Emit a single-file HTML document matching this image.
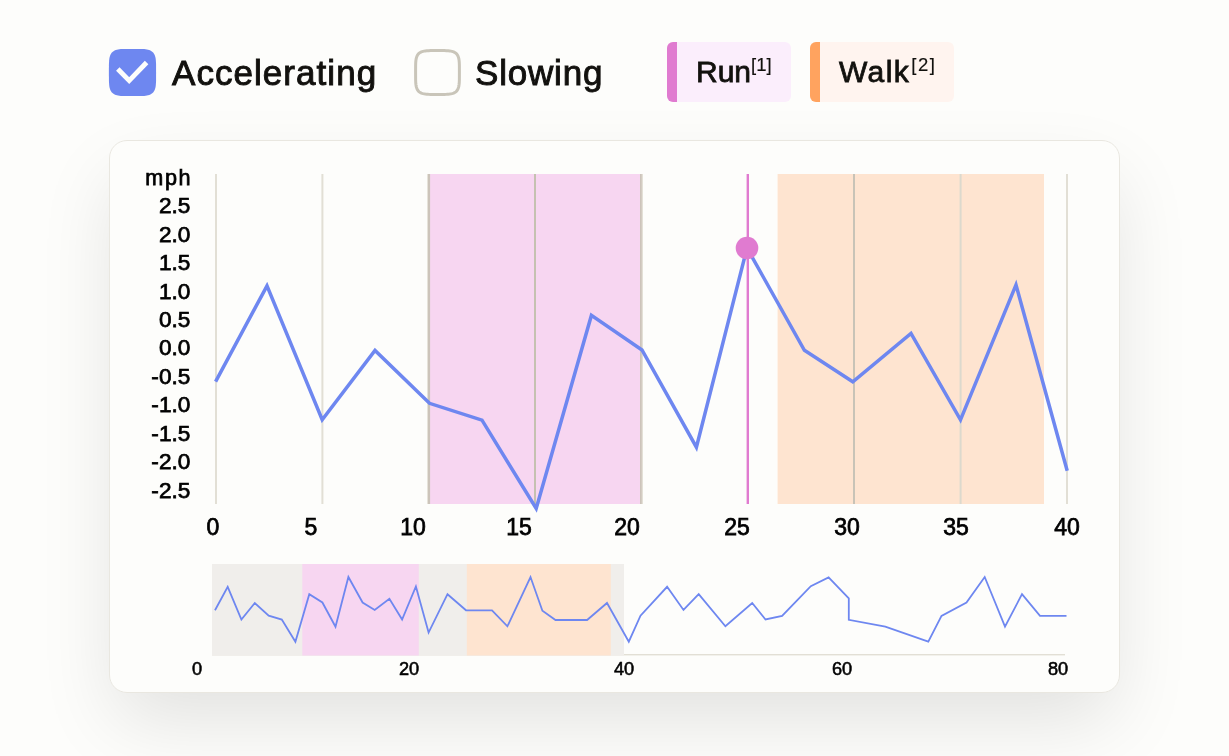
<!DOCTYPE html>
<html lang="en">
<head>
<meta charset="utf-8">
<title>Speed chart</title>
<style>
  html,body{margin:0;padding:0;}
  body{width:1229px;height:756px;background:#fdfdfb;position:relative;overflow:hidden;
       font-family:"Liberation Sans",Arial,sans-serif;color:#12110e;}
  .abs{position:absolute;}
  /* ---------- top controls ---------- */
  .cb{position:absolute;top:48.5px;width:47px;height:47px;overflow:visible;}
  .lbl{position:absolute;font-size:35px;line-height:40px;top:52.5px;white-space:nowrap;letter-spacing:1.05px;
       -webkit-text-stroke:0.95px #12110e;}
  .tag{position:absolute;top:42px;height:60px;border-radius:6px;overflow:hidden;}
  .tag i{position:absolute;left:0;top:0;bottom:0;width:10px;}
  .tag span{position:absolute;top:0;line-height:60px;font-size:30px;white-space:nowrap;-webkit-text-stroke:0.8px #12110e;}
  .tag sup{font-size:18.5px;-webkit-text-stroke:0.15px #12110e;vertical-align:baseline;position:relative;top:-11.5px;margin-left:0px;}
  /* ---------- card ---------- */
  .card{position:absolute;left:109px;top:140px;width:1009px;height:551.2px;border:1px solid #e9e7e0;border-radius:18px;
        background:#fdfdfb;box-shadow:0 33px 78px -7px rgba(10,10,8,0.112);}
  .yl{position:absolute;left:100px;width:90.3px;text-align:right;font-size:22.6px;line-height:24px;white-space:nowrap;-webkit-text-stroke:0.75px #000;color:#000;}
  .xl{position:absolute;top:514.6px;width:60px;margin-left:-30px;text-align:center;font-size:23px;line-height:24px;-webkit-text-stroke:0.75px #000;color:#000;}
  .ml{position:absolute;top:659.6px;width:40px;margin-left:-20px;text-align:center;font-size:18.2px;line-height:18px;-webkit-text-stroke:0.55px #000;color:#000;}
  .lbl,.tag span,.yl,.xl,.ml{will-change:transform;}
  svg{position:absolute;left:0;top:0;}
</style>
</head>
<body>

<!-- checkbox: Accelerating (checked) -->
<svg class="cb" style="left:109px" viewBox="0 0 47 47">
  <path d="M47.10 23.50 L47.08 30.71 L47.01 33.24 L46.90 35.10 L46.75 36.61 L46.55 37.91 L46.30 39.04 L46.01 40.05 L45.67 40.96 L45.28 41.78 L44.84 42.52 L44.35 43.19 L43.80 43.80 L43.19 44.35 L42.52 44.84 L41.78 45.28 L40.96 45.67 L40.05 46.01 L39.04 46.30 L37.91 46.55 L36.61 46.75 L35.10 46.90 L33.24 47.01 L30.71 47.08 L23.50 47.10 L16.29 47.08 L13.76 47.01 L11.90 46.90 L10.39 46.75 L9.09 46.55 L7.96 46.30 L6.95 46.01 L6.04 45.67 L5.22 45.28 L4.48 44.84 L3.81 44.35 L3.20 43.80 L2.65 43.19 L2.16 42.52 L1.72 41.78 L1.33 40.96 L0.99 40.05 L0.70 39.04 L0.45 37.91 L0.25 36.61 L0.10 35.10 L-0.01 33.24 L-0.08 30.71 L-0.10 23.50 L-0.08 16.29 L-0.01 13.76 L0.10 11.90 L0.25 10.39 L0.45 9.09 L0.70 7.96 L0.99 6.95 L1.33 6.04 L1.72 5.22 L2.16 4.48 L2.65 3.81 L3.20 3.20 L3.81 2.65 L4.48 2.16 L5.22 1.72 L6.04 1.33 L6.95 0.99 L7.96 0.70 L9.09 0.45 L10.39 0.25 L11.90 0.10 L13.76 -0.01 L16.29 -0.08 L23.50 -0.10 L30.71 -0.08 L33.24 -0.01 L35.10 0.10 L36.61 0.25 L37.91 0.45 L39.04 0.70 L40.05 0.99 L40.96 1.33 L41.78 1.72 L42.52 2.16 L43.19 2.65 L43.80 3.20 L44.35 3.81 L44.84 4.48 L45.28 5.22 L45.67 6.04 L46.01 6.95 L46.30 7.96 L46.55 9.09 L46.75 10.39 L46.90 11.90 L47.01 13.76 L47.08 16.29 Z" fill="#6e87f0"/>
  <path d="M8.8 20.0 L20.2 31.6 L37.6 13.5" fill="none" stroke="#fdfdfb" stroke-width="4.9"/>
</svg>
<div class="lbl" style="left:171.6px">Accelerating</div>

<!-- checkbox: Slowing (unchecked) -->
<svg class="cb" style="left:414px" viewBox="0 0 47 47">
  <path d="M45.40 23.50 L45.38 30.19 L45.32 32.54 L45.22 34.26 L45.07 35.67 L44.89 36.87 L44.66 37.92 L44.39 38.86 L44.07 39.70 L43.71 40.46 L43.30 41.15 L42.85 41.77 L42.34 42.34 L41.77 42.85 L41.15 43.30 L40.46 43.71 L39.70 44.07 L38.86 44.39 L37.92 44.66 L36.87 44.89 L35.67 45.07 L34.26 45.22 L32.54 45.32 L30.19 45.38 L23.50 45.40 L16.81 45.38 L14.46 45.32 L12.74 45.22 L11.33 45.07 L10.13 44.89 L9.08 44.66 L8.14 44.39 L7.30 44.07 L6.54 43.71 L5.85 43.30 L5.23 42.85 L4.66 42.34 L4.15 41.77 L3.70 41.15 L3.29 40.46 L2.93 39.70 L2.61 38.86 L2.34 37.92 L2.11 36.87 L1.93 35.67 L1.78 34.26 L1.68 32.54 L1.62 30.19 L1.60 23.50 L1.62 16.81 L1.68 14.46 L1.78 12.74 L1.93 11.33 L2.11 10.13 L2.34 9.08 L2.61 8.14 L2.93 7.30 L3.29 6.54 L3.70 5.85 L4.15 5.23 L4.66 4.66 L5.23 4.15 L5.85 3.70 L6.54 3.29 L7.30 2.93 L8.14 2.61 L9.08 2.34 L10.13 2.11 L11.33 1.93 L12.74 1.78 L14.46 1.68 L16.81 1.62 L23.50 1.60 L30.19 1.62 L32.54 1.68 L34.26 1.78 L35.67 1.93 L36.87 2.11 L37.92 2.34 L38.86 2.61 L39.70 2.93 L40.46 3.29 L41.15 3.70 L41.77 4.15 L42.34 4.66 L42.85 5.23 L43.30 5.85 L43.71 6.54 L44.07 7.30 L44.39 8.14 L44.66 9.08 L44.89 10.13 L45.07 11.33 L45.22 12.74 L45.32 14.46 L45.38 16.81 Z" fill="#fdfdfb" stroke="#c9c5b9" stroke-width="3"/>
</svg>
<div class="lbl" style="left:475px;letter-spacing:0.8px">Slowing</div>

<!-- tags -->
<div class="tag" style="left:667px;width:124px;background:#fbeefc"><i style="background:#e07bd0"></i><span style="left:28.6px">Run<sup>[1]</sup></span></div>
<div class="tag" style="left:810px;width:144px;background:#fff4ef"><i style="background:#ffa35f"></i><span style="left:29px;letter-spacing:1.4px">Walk<sup style="letter-spacing:1.6px;margin-left:1px">[2]</sup></span></div>

<!-- card -->
<div class="card"></div>

<!-- main chart graphics -->
<svg width="1229" height="756" viewBox="0 0 1229 756">
  <!-- regions -->
  <rect x="430" y="174" width="210.2" height="330" fill="#f7d6f1"/>
  <rect x="777.6" y="174" width="266.4" height="330" fill="#fee4d0"/>
  <!-- grid lines -->
  <g>
    <rect x="215" y="174" width="2" height="330" fill="#e2dfd5"/>
    <rect x="321.4" y="174" width="2" height="330" fill="#e2dfd5"/>
    <rect x="427.2" y="174" width="0.9" height="330" fill="#e0ddd2"/>
    <rect x="428" y="174" width="2.1" height="330" fill="#ccc4ba"/>
    <rect x="534" y="174" width="2" height="330" fill="#c5c1b1"/>
    <rect x="640" y="174" width="1.9" height="330" fill="#ccc4ba"/>
    <rect x="641.8" y="174" width="1.1" height="330" fill="#e0ddd2"/>
    <rect x="853" y="174" width="2" height="330" fill="#c8c3b7"/>
    <rect x="959.6" y="174" width="2" height="330" fill="#dcd9cd"/>
    <rect x="1066" y="174" width="2" height="330" fill="#e2dfd5"/>
  </g>
  <!-- data line -->
  <polyline fill="none" stroke="#6e87f0" stroke-width="3.5" stroke-linejoin="miter"
    points="215.6,381.6 267,285.8 322.2,419.7 375,350.4 429.5,403.3 482,420.2 536.2,508.5 591.4,315.4 642,350 696.4,447.2 747,248 804.4,350.3 852.8,381.8 911,333.5 960.5,419.9 1016,284.8 1067.2,470.8"/>
  <!-- cursor -->
  <rect x="746.6" y="174" width="2.4" height="330" fill="#e07bd0"/>
  <circle cx="747" cy="248.1" r="11.3" fill="#e07bd0"/>

  <!-- mini chart -->
  <rect x="212" y="654" width="853" height="1.4" fill="#e2dfd5"/>
  <rect x="212" y="564" width="412" height="91.5" fill="#f0eeeb"/>
  <rect x="302.3" y="564" width="116.5" height="91.5" fill="#f7d6f1"/>
  <rect x="466.8" y="564" width="144" height="91.5" fill="#fee4d0"/>
  <polyline fill="none" stroke="#6e87f0" stroke-width="1.8" stroke-linejoin="miter"
    points="215.0,610.3 227.7,586.8 241.4,619.5 254.8,603.0 268.7,615.7 281.8,619.6 295.4,641.7 309.3,594.2 322.4,602.5 335.5,626.7 348.4,577.0 362.6,602.5 374.7,609.9 389.4,598.7 402.1,619.5 415.9,586.4 428.6,632.6 447.5,594.2 466.0,610.3 492.0,610.3 507.4,626.3 530.5,577.0 542.4,610.7 555.5,620.0 587.1,620.0 607.0,603.0 628.8,641.7 640.5,615.7 667.1,586.8 683.5,609.9 698.7,594.2 725.4,626.3 752.2,603.0 765.5,619.5 782.1,615.9 810.8,586.2 828.6,577.4 848.8,598.4 848.8,619.8 885.3,626.7 928.3,641.7 941.5,615.9 966.5,602.5 984.7,577.0 1005.0,626.7 1022.0,594.2 1040.0,615.9 1066.5,615.9"/>
</svg>

<!-- y axis labels -->
<div class="yl" style="top:165.8px;font-size:21.6px;letter-spacing:1.7px;margin-left:1.7px">mph</div>
<div class="yl" style="top:194.2px">2.5</div>
<div class="yl" style="top:222.6px">2.0</div>
<div class="yl" style="top:251.1px">1.5</div>
<div class="yl" style="top:279.5px">1.0</div>
<div class="yl" style="top:308.0px">0.5</div>
<div class="yl" style="top:336.4px">0.0</div>
<div class="yl" style="top:364.9px">-0.5</div>
<div class="yl" style="top:393.3px">-1.0</div>
<div class="yl" style="top:421.8px">-1.5</div>
<div class="yl" style="top:450.2px">-2.0</div>
<div class="yl" style="top:478.7px">-2.5</div>

<!-- x axis labels -->
<div class="xl" style="left:212.6px">0</div>
<div class="xl" style="left:310.6px">5</div>
<div class="xl" style="left:412.5px">10</div>
<div class="xl" style="left:519px">15</div>
<div class="xl" style="left:626.8px">20</div>
<div class="xl" style="left:737px">25</div>
<div class="xl" style="left:846.5px">30</div>
<div class="xl" style="left:956.4px">35</div>
<div class="xl" style="left:1067px">40</div>

<!-- mini axis labels -->
<div class="ml" style="left:197px">0</div>
<div class="ml" style="left:408.5px">20</div>
<div class="ml" style="left:624.3px">40</div>
<div class="ml" style="left:841.6px">60</div>
<div class="ml" style="left:1057.7px">80</div>

</body>
</html>
